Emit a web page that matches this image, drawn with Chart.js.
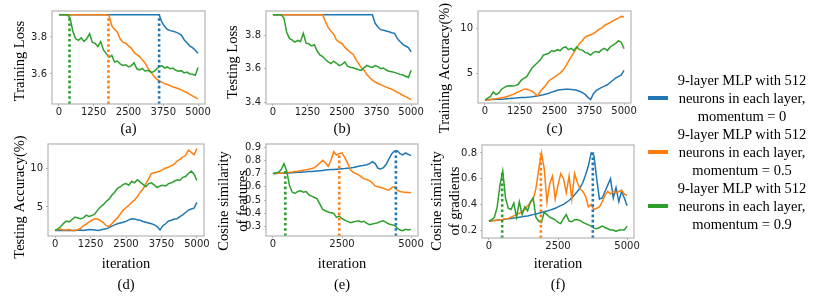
<!DOCTYPE html>
<html>
<head>
<meta charset="utf-8">
<script src="https://cdn.jsdelivr.net/npm/chart.js@4.4.0/dist/chart.umd.min.js"></script>
<style>
  body { margin: 0; background: #fff; width: 814px; height: 297px; position: relative; overflow: hidden; }
  .box { position: absolute; }
  #legend { position: absolute; left: 640px; top: 71px; width: 174px; font: 14.5px "Liberation Serif"; line-height: 18px; color: #000; }
  .entry { position: relative; height: 54px; }
  .sw { position: absolute; left: 8px; top: 25px; width: 20px; height: 4px; }
  .txt { position: absolute; left: 22px; width: 160px; text-align: center; }
</style>
</head>
<body>
<div class="box" style="left:0px;top:0px;width:214px;height:145px"><canvas id="pa"></canvas></div>
<div class="box" style="left:210px;top:0px;width:214px;height:145px"><canvas id="pb"></canvas></div>
<div class="box" style="left:420px;top:0px;width:220px;height:145px"><canvas id="pc"></canvas></div>
<div class="box" style="left:0px;top:134px;width:214px;height:163px"><canvas id="pd"></canvas></div>
<div class="box" style="left:206px;top:134px;width:220px;height:163px"><canvas id="pe"></canvas></div>
<div class="box" style="left:420px;top:134px;width:226px;height:163px"><canvas id="pf"></canvas></div>
<div id="legend">
  <div class="entry"><span class="sw" style="background:#1f77b4"></span><div class="txt">9-layer MLP with 512<br>neurons in each layer,<br>momentum = 0</div></div>
  <div class="entry"><span class="sw" style="background:#ff7f0e"></span><div class="txt">9-layer MLP with 512<br>neurons in each layer,<br>momentum = 0.5</div></div>
  <div class="entry"><span class="sw" style="background:#2ca02c"></span><div class="txt">9-layer MLP with 512<br>neurons in each layer,<br>momentum = 0.9</div></div>
</div>
<script>
// iterations shared by every panel
const iters = [0,100,200,300,400,500,600,700,800,900,1000,1100,1200,1300,1400,1500,1600,1700,1800,1900,
  2000,2100,2200,2300,2400,2500,2600,2700,2800,2900,3000,3100,3200,3300,3400,3500,3600,3700,3800,3900,
  4000,4100,4200,4300,4400,4500,4600,4700,4800,4900,5000];
const xTicksWide = [0, 1250, 2500, 3750, 5000];
const xTicksNarrow = [0, 2500, 5000];

// (a) training loss
const trainLossBlue = [3.92,3.92,3.92,3.92,3.92,3.92,3.92,3.92,3.92,3.92,3.92,3.92,3.92,3.92,3.92,3.92,3.92,3.92,3.92,3.92,
  3.92,3.92,3.92,3.92,3.92,3.92,3.92,3.92,3.92,3.92,3.92,3.92,3.92,3.92,3.92,3.92,3.92,
  3.88,3.856,3.84,3.834,3.831,3.826,3.819,3.81,3.785,3.768,3.752,3.742,3.728,3.712];
const trainLossOrange = [3.92,3.92,3.92,3.92,3.92,3.92,3.92,3.92,3.92,3.92,3.92,3.92,3.92,3.92,3.92,3.92,3.92,3.92,
  3.915,3.86,3.842,3.826,3.79,3.772,3.766,3.752,3.74,3.716,3.705,3.694,3.675,3.658,3.63,3.612,3.59,3.575,3.562,
  3.556,3.548,3.543,3.537,3.53,3.526,3.52,3.514,3.506,3.5,3.49,3.482,3.474,3.466];
const trainLossGreen = [3.92,3.92,3.92,3.92,
  3.9,3.83,3.79,3.782,3.795,3.776,3.79,3.818,3.772,3.765,3.748,3.775,3.73,3.71,3.69,3.7,
  3.665,3.67,3.655,3.646,3.65,3.638,3.645,3.66,3.628,3.622,3.63,3.615,3.62,3.61,3.612,3.625,
  3.64,3.645,3.632,3.638,3.628,3.632,3.62,3.615,3.618,3.606,3.61,3.6,3.598,3.593,3.635];
const trainLossTicks = [3.6, 3.8];
const trainLossMarks = [380, 1780, 3600];
const trainLossMarkTops = [3.92, 3.92, 3.92];

// (b) testing loss
const testLossBlue = [3.92,3.92,3.92,3.92,3.92,3.92,3.92,3.92,3.92,3.92,3.92,3.92,3.92,3.92,3.92,3.92,3.92,3.92,3.92,3.92,
  3.92,3.92,3.92,3.92,3.92,3.92,3.92,3.92,3.92,3.92,3.92,3.92,3.92,3.92,3.92,3.92,3.92,
  3.87,3.848,3.832,3.828,3.824,3.82,3.814,3.81,3.78,3.762,3.745,3.735,3.726,3.7];
const testLossOrange = [3.92,3.92,3.92,3.92,3.92,3.92,3.92,3.92,3.92,3.92,3.92,3.92,3.92,3.92,3.92,3.92,3.92,3.92,3.92,
  3.88,3.845,3.822,3.805,3.77,3.758,3.75,3.728,3.712,3.698,3.686,3.655,3.63,3.605,3.59,3.565,3.548,3.532,
  3.52,3.512,3.505,3.498,3.49,3.484,3.478,3.47,3.46,3.452,3.442,3.434,3.425,3.416];
const testLossGreen = [3.92,3.92,3.92,3.92,
  3.9,3.815,3.78,3.77,3.758,3.768,3.762,3.81,3.752,3.748,3.735,3.742,3.705,3.682,3.672,3.655,
  3.64,3.63,3.645,3.632,3.618,3.625,3.64,3.615,3.608,3.605,3.6,3.594,3.59,3.606,3.62,3.612,
  3.608,3.618,3.612,3.6,3.604,3.592,3.585,3.582,3.578,3.572,3.566,3.562,3.555,3.548,3.59];
const testLossTicks = [3.4, 3.6, 3.8];

// (c) training accuracy (%)
const trainAccBlue = [2.0,2.02,2.05,2.05,2.08,2.1,2.1,2.12,2.15,2.18,2.2,2.22,2.25,2.27,2.28,2.3,2.33,2.37,2.42,2.48,
  2.52,2.58,2.66,2.76,2.88,2.98,3.08,3.15,3.18,3.2,3.2,3.18,3.15,3.08,2.97,2.82,2.62,2.3,2.05,2.7,
  3.05,3.25,3.4,3.55,3.7,3.95,4.2,4.45,4.6,4.8,5.3];
const trainAccOrange = [2.0,2.0,2.05,2.1,2.15,2.2,2.25,2.3,2.4,2.5,2.6,2.75,2.9,3.05,3.2,3.2,3.1,2.95,2.7,2.45,
  3.0,3.35,3.7,4.15,4.35,4.55,4.8,5.0,5.3,5.75,6.3,6.8,7.3,7.8,8.3,8.6,9.0,9.15,9.25,9.4,
  9.6,9.85,10.0,10.3,10.45,10.6,10.8,10.95,11.1,11.3,11.25];
const trainAccGreen = [2.0,2.2,2.4,2.9,2.6,2.8,3.2,3.4,3.55,3.6,3.55,3.6,3.75,4.2,4.4,4.6,5.1,5.6,5.9,6.2,
  6.5,7.0,7.1,7.2,7.5,7.4,7.6,7.5,7.8,7.9,7.6,7.75,7.5,7.9,7.6,7.55,7.3,7.2,7.0,7.3,
  7.4,7.3,7.6,7.75,7.5,7.9,8.1,8.3,8.6,8.4,7.7];
const accTicks = [5, 10];

// (d) testing accuracy (%)
const testAccBlue = [2.0,2.0,2.02,1.98,2.0,2.03,2.0,1.98,2.02,2.05,2.0,2.05,2.1,2.08,2.05,2.0,2.05,2.15,2.2,2.35,
  2.55,2.7,2.85,2.95,3.05,3.15,3.35,3.5,3.45,3.35,3.3,3.15,3.05,2.95,2.85,2.7,2.5,2.05,2.6,2.85,
  3.2,3.3,3.45,3.5,3.75,4.0,4.3,4.6,4.75,4.85,5.6];
const testAccOrange = [2.0,2.1,2.15,2.05,2.05,2.1,2.0,2.0,2.1,2.3,2.6,2.8,3.1,3.3,3.5,3.45,3.25,3.0,2.6,2.5,
  2.85,3.25,3.6,4.1,4.6,4.9,5.2,5.6,5.9,6.3,6.9,7.3,8.0,8.6,9.3,9.4,9.5,9.6,9.8,10.0,
  10.1,10.3,10.5,10.9,11.1,11.4,11.6,12.3,12.0,11.7,12.5];
const testAccGreen = [2.0,2.2,2.5,2.9,3.2,3.1,3.4,3.7,3.6,3.5,3.6,3.95,3.8,3.9,4.1,4.6,5.0,5.3,5.7,6.0,
  6.5,6.9,7.4,7.6,7.9,8.0,7.8,8.3,8.1,8.5,8.2,7.9,7.6,8.0,8.1,7.8,7.5,7.7,7.8,7.7,
  8.0,8.1,8.3,8.5,8.4,8.8,8.9,9.3,9.6,9.2,8.4];

// (e) cosine similarity of features
const featBlue = [0.7,0.7,0.702,0.703,0.704,0.705,0.705,0.707,0.708,0.709,0.71,0.712,0.713,0.715,0.716,0.718,0.72,0.722,0.724,0.726,
  0.728,0.73,0.731,0.733,0.735,0.737,0.738,0.74,0.742,0.745,0.75,0.755,0.758,0.762,0.766,0.775,0.79,0.775,0.74,0.735,
  0.745,0.77,0.81,0.85,0.87,0.872,0.85,0.84,0.855,0.845,0.835];
const featOrange = [0.7,0.7,0.702,0.703,0.705,0.707,0.71,0.712,0.715,0.718,0.722,0.725,0.728,0.732,0.738,0.745,0.76,0.78,0.8,0.78,
  0.755,0.8,0.865,0.84,0.85,0.855,0.82,0.78,0.73,0.71,0.7,0.69,0.675,0.66,0.655,0.645,0.63,0.605,0.6,0.595,
  0.59,0.58,0.575,0.595,0.6,0.575,0.565,0.562,0.56,0.558,0.555];
const featGreen = [0.7,0.705,0.71,0.73,0.775,0.72,0.61,0.56,0.55,0.565,0.57,0.56,0.565,0.54,0.53,0.52,0.51,0.47,0.43,0.42,
  0.41,0.405,0.4,0.37,0.38,0.36,0.35,0.34,0.33,0.335,0.34,0.345,0.335,0.34,0.325,0.315,0.32,0.325,0.33,0.34,
  0.345,0.33,0.32,0.315,0.31,0.29,0.275,0.27,0.28,0.275,0.28];
const featTicks = [0.3, 0.4, 0.5, 0.6, 0.7, 0.8, 0.9];
const featMarks = [450, 2400, 4450];
const featMarkTops = [0.72, 0.85, 0.87];

// (f) cosine similarity of gradients
const gradBlue = [0.27,0.272,0.275,0.277,0.28,0.282,0.285,0.288,0.29,0.293,0.296,0.3,0.303,0.307,0.31,0.315,0.32,0.325,0.33,0.336,
  0.342,0.348,0.355,0.362,0.37,0.38,0.39,0.4,0.415,0.43,0.45,0.475,0.5,0.53,0.57,0.63,0.7,0.8,0.78,0.6,
  0.44,0.45,0.5,0.55,0.6,0.45,0.53,0.42,0.5,0.45,0.39];
const gradOrange = [0.27,0.272,0.275,0.278,0.28,0.283,0.287,0.29,0.3,0.31,0.32,0.33,0.345,0.36,0.39,0.41,0.44,0.52,0.67,0.8,
  0.68,0.42,0.56,0.62,0.44,0.55,0.64,0.6,0.49,0.62,0.44,0.64,0.57,0.52,0.5,0.46,0.38,0.4,0.36,0.37,
  0.38,0.42,0.47,0.5,0.48,0.5,0.49,0.5,0.51,0.48,0.47];
const gradGreen = [0.27,0.28,0.3,0.38,0.55,0.66,0.45,0.37,0.36,0.41,0.3,0.42,0.32,0.38,0.35,0.42,0.45,0.3,0.27,0.26,
  0.34,0.32,0.3,0.29,0.28,0.26,0.25,0.29,0.32,0.27,0.265,0.28,0.28,0.275,0.26,0.25,0.24,0.23,0.215,0.21,
  0.22,0.23,0.22,0.21,0.2,0.2,0.19,0.2,0.2,0.2,0.23];
const gradTicks = [0.2, 0.4, 0.6, 0.8];
const gradMarks = [480, 1880, 3760];
const gradMarkTops = [0.66, 0.8, 0.82];

const BLUE = '#1f77b4', ORANGE = '#ff7f0e', GREEN = '#2ca02c';
const markColors = [GREEN, ORANGE, BLUE];

// grey box round the plot area
const frame = {
  id: 'frame',
  afterDraw(chart) {
    const {ctx, chartArea: a} = chart;
    ctx.save();
    ctx.strokeStyle = '#b4b4b4';
    ctx.lineWidth = 1.2;
    ctx.strokeRect(a.left, a.top, a.right - a.left, a.bottom - a.top);
    ctx.restore();
  }
};

// rotated y label, placed where the reference puts it
const sideTitle = {
  id: 'sideTitle',
  afterDraw(chart, args, o) {
    const ctx = chart.ctx;
    ctx.save();
    ctx.font = '14.5px "Liberation Serif"';
    ctx.fillStyle = '#000';
    ctx.textAlign = 'center';
    ctx.textBaseline = 'middle';
    o.lines.forEach((line, i) => {
      ctx.save();
      ctx.translate(o.x[i], o.y);
      ctx.rotate(-Math.PI / 2);
      ctx.fillText(line, 0, 0);
      ctx.restore();
    });
    ctx.restore();
  }
};

function lineSet(vals, color) {
  return {
    data: iters.map((x, i) => ({x: x, y: vals[i]})),
    borderColor: color, borderWidth: 1.5, pointRadius: 0, tension: 0
  };
}

function markSet(x, top, bottom, color) {
  return {
    data: [{x: x, y: bottom}, {x: x, y: top}],
    borderColor: color, borderWidth: 2.6, borderDash: [2.6, 2.6], pointRadius: 0
  };
}

function makePanel(id, p) {
  const datasets = [];
  if (p.marks) {
    p.marks.forEach((m, i) => datasets.push(markSet(m, p.markTops[i], p.yMin, markColors[i])));
  }
  datasets.push(lineSet(p.green, GREEN), lineSet(p.orange, ORANGE), lineSet(p.blue, BLUE));

  const tickFont = {family: 'DejaVu Sans', size: 10};
  new Chart(document.getElementById(id), {
    type: 'line',
    data: {datasets: datasets},
    plugins: [frame, sideTitle],
    options: {
      responsive: true,
      maintainAspectRatio: false,
      animation: false,
      layout: {padding: {top: p.padTop, right: p.padRight, left: 0, bottom: 0}},
      plugins: {
        legend: {display: false},
        tooltip: {enabled: false},
        sideTitle: {lines: p.yTitle, x: p.yTitleX, y: p.yTitleY}
      },
      scales: {
        x: {
          type: 'linear', min: -250, max: 5250,
          afterBuildTicks: s => { s.ticks = p.xTicks.map(v => ({value: v})); },
          afterFit: s => { s.height = p.xh; s.paddingLeft = 0; s.paddingRight = 0; },
          ticks: {font: tickFont, color: '#222', padding: 0, maxRotation: 0, autoSkip: false, callback: v => String(v)},
          grid: {drawOnChartArea: false, tickLength: 2, color: '#b4b4b4'},
          border: {display: false},
          title: {
            display: true, text: p.xTitle, color: '#000',
            font: {family: 'Liberation Serif', size: 14.5, lineHeight: p.xTitleLh},
            padding: {top: 0, bottom: p.xTitlePad}
          }
        },
        y: {
          min: p.yMin, max: p.yMax,
          afterBuildTicks: s => { s.ticks = p.yTicks.map(v => ({value: v})); },
          afterFit: s => { s.width = p.yw; s.paddingTop = 0; s.paddingBottom = 0; },
          ticks: {font: tickFont, color: '#222', padding: 3, callback: v => String(v)},
          grid: {drawOnChartArea: false, tickLength: 2, color: '#b4b4b4'},
          border: {display: false}
        }
      }
    }
  });
}

makePanel('pa', {
  blue: trainLossBlue, orange: trainLossOrange, green: trainLossGreen,
  marks: trainLossMarks, markTops: trainLossMarkTops,
  yMin: 3.438, yMax: 3.94, yTicks: trainLossTicks, xTicks: xTicksWide,
  yw: 52, xh: 41, padTop: 11, padRight: 9,
  xTitle: '(a)', xTitleLh: 1.2, xTitlePad: 7,
  yTitle: ['Training Loss'], yTitleX: [20], yTitleY: 61
});
makePanel('pb', {
  blue: testLossBlue, orange: testLossOrange, green: testLossGreen,
  yMin: 3.39, yMax: 3.943, yTicks: testLossTicks, xTicks: xTicksWide,
  yw: 56, xh: 41, padTop: 11, padRight: 6,
  xTitle: '(b)', xTitleLh: 1.2, xTitlePad: 7,
  yTitle: ['Testing Loss'], yTitleX: [23], yTitleY: 62
});
makePanel('pc', {
  blue: trainAccBlue, orange: trainAccOrange, green: trainAccGreen,
  yMin: 1.67, yMax: 11.9, yTicks: accTicks, xTicks: xTicksWide,
  yw: 58, xh: 42, padTop: 11, padRight: 9,
  xTitle: '(c)', xTitleLh: 1.2, xTitlePad: 7,
  yTitle: ['Training Accuracy(%)'], yTitleX: [25], yTitleY: 68
});
makePanel('pd', {
  blue: testAccBlue, orange: testAccOrange, green: testAccGreen,
  yMin: 1.28, yMax: 13.08, yTicks: accTicks, xTicks: xTicksWide,
  yw: 48, xh: 61, padTop: 10, padRight: 10,
  xTitle: ['iteration', '(d)'], xTitleLh: 1.45, xTitlePad: 1.5,
  yTitle: ['Testing Accuracy(%)'], yTitleX: [20], yTitleY: 63
});
makePanel('pe', {
  blue: featBlue, orange: featOrange, green: featGreen,
  marks: featMarks, markTops: featMarkTops,
  yMin: 0.23, yMax: 0.9226, yTicks: featTicks, xTicks: xTicksNarrow,
  yw: 60, xh: 61, padTop: 10, padRight: 8,
  xTitle: ['iteration', '(e)'], xTitleLh: 1.45, xTitlePad: 1.5,
  yTitle: ['Cosine similarity', 'of features'], yTitleX: [18, 37], yTitleY: 67
});
makePanel('pf', {
  blue: gradBlue, orange: gradOrange, green: gradGreen,
  marks: gradMarks, markTops: gradMarkTops,
  yMin: 0.138, yMax: 0.862, yTicks: gradTicks, xTicks: xTicksNarrow,
  yw: 62, xh: 59, padTop: 11, padRight: 12,
  xTitle: ['iteration', '(f)'], xTitleLh: 1.45, xTitlePad: 1.5,
  yTitle: ['Cosine similarity', 'of gradients'], yTitleX: [17, 35], yTitleY: 67
});
</script>
</body>
</html>
